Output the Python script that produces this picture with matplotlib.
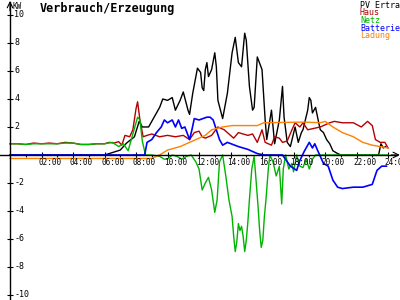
import numpy as np
import matplotlib.pyplot as plt

# hours / kW
pv_h = [0, 6.0, 6.3, 7.0, 7.4, 7.9, 8.2, 8.4, 8.8, 9.1, 9.5, 9.7, 10.0, 10.3, 10.5, 10.8, 11.0, 11.3, 11.4,
        11.6, 11.9, 12.1, 12.2, 12.3, 12.4, 12.5, 12.6, 12.8, 13.0, 13.1, 13.2, 13.5, 13.8, 14.1, 14.3, 14.5,
        14.7, 14.9, 15.0, 15.2, 15.4, 15.5, 15.7, 16.0, 16.2, 16.3, 16.6, 16.8, 17.1, 17.3, 17.4, 17.6, 17.8,
        18.1, 18.3, 18.5, 18.6, 18.9, 19.0, 19.1, 19.2, 19.4, 19.6, 19.7, 19.9, 20.1, 20.3, 20.5, 20.8, 21.0,
        23.4, 23.55, 23.7, 23.85]
pv_kw = [0, 0, 0.1, 0.35, 0.85, 1.3, 2.4, 2.0, 2.0, 2.6, 3.4, 4.0, 3.9, 4.1, 3.2, 3.9, 4.5, 3.2, 2.9,
         4.4, 6.2, 5.9, 4.8, 4.6, 6.1, 6.6, 5.6, 6.1, 7.3, 6.3, 3.9, 2.6, 4.4, 7.3, 8.4, 6.6,
         6.3, 8.7, 8.2, 4.9, 3.2, 3.4, 7.0, 6.1, 2.5, 1.1, 3.2, 0.8, 2.5, 4.9, 2.7, 0.9, 0.6,
         2.0, 0.9, 1.6, 1.8, 3.2, 4.1, 3.9, 3.0, 3.4, 2.3, 1.8, 1.6, 1.1, 0.8, 0.3, 0.1, 0,
         0, 0.8, 0.5, 0.6]

haus_h = [0, 0.5, 1.0, 1.5, 2.0, 2.5, 3.0, 3.5, 4.0, 4.5, 5.0, 5.5, 6.0, 6.3, 6.6, 6.9, 7.1, 7.3, 7.6,
          7.8, 8.0, 8.1, 8.25, 8.45, 8.7, 9.0, 9.5, 10.0, 10.5, 11.0, 11.4, 11.7, 12.0, 12.2, 12.4, 12.8,
          13.2, 13.6, 14.2, 14.5, 15.1, 15.4, 15.7, 16.0, 16.2, 16.6, 16.8, 17.1, 17.3, 17.6, 17.9, 18.1,
          18.4, 18.6, 18.9, 19.3, 19.7, 20.3, 20.6, 21.1, 21.8, 22.3, 22.7, 23.0, 23.2, 23.5, 23.8, 24.0]
haus_kw = [0.8, 0.8, 0.75, 0.85, 0.8, 0.85, 0.8, 0.9, 0.85, 0.75, 0.75, 0.8, 0.8, 0.9, 0.85, 0.95, 0.7, 1.4, 1.3,
           1.8, 3.3, 3.8, 2.5, 1.3, 1.4, 1.5, 1.3, 1.4, 1.3, 1.4, 1.1, 1.6, 1.7, 1.3, 1.2, 1.4,
           2.0, 1.8, 1.2, 1.6, 1.4, 1.5, 0.9, 1.8, 0.9, 0.7, 1.3, 1.2, 0.9, 1.0, 1.8, 2.3,
           2.0, 2.3, 1.8, 1.9, 2.0, 2.3, 2.4, 2.3, 2.3, 2.0, 2.4, 2.1, 1.1, 0.9, 0.9, 0.5]

netz_h = [0, 0.5, 1.0, 1.5, 2.0, 2.5, 3.0, 3.5, 4.0, 4.5, 5.0, 5.5, 6.0, 6.5, 6.9, 7.2, 7.5, 7.8, 8.1, 8.25,
          8.4, 8.6, 9.0, 9.5, 9.8, 10.0, 10.3, 10.6, 10.9, 11.2, 11.5, 11.8, 12.0, 12.2, 12.4, 12.6, 12.8,
          13.0, 13.15, 13.3, 13.5, 13.7, 13.9, 14.1, 14.2, 14.3, 14.4, 14.5, 14.6, 14.7, 14.8, 14.9, 15.0,
          15.1, 15.2, 15.35, 15.5, 15.6, 15.75, 15.85, 15.95, 16.05, 16.15, 16.25, 16.4, 16.5, 16.7, 16.9,
          17.1, 17.25, 17.35, 17.5, 17.7, 17.9, 18.0, 18.2, 18.4, 18.6, 18.8, 19.0, 19.2, 19.4, 24.0]
netz_kw = [0.8, 0.8, 0.75, 0.8, 0.8, 0.8, 0.8, 0.85, 0.85, 0.75, 0.75, 0.8, 0.8, 0.9, 0.6, 0.8, 0.3, 1.5, 2.7, 2.5,
           1.0, 0, 0, -0.1, -0.3, -0.3, 0, -0.1, -0.3, -0.1, 0, -0.5, -1.0, -2.5, -2.0, -1.6, -2.5,
           -4.1, -3.2, -0.5, 0, -1.5, -3.2, -4.4, -5.8, -6.9, -6.2, -4.9, -5.4, -5.1, -5.8, -6.9, -6.1,
           -4.8, -3.2, -1.0, -0.1, -1.5, -3.7, -5.4, -6.6, -6.1, -4.4, -3.2, -1.0, 0, -0.5, -1.5,
           -0.8, -3.5, -1.0, 0, -1.0, -0.6, -1.2, 0, -0.8, -0.9, -0.3, -1.0, -0.3, 0, 0]

batt_h = [0, 8.55, 8.7, 9.0, 9.3, 9.6, 9.8, 10.0, 10.3, 10.5, 10.7, 10.9, 11.1, 11.4, 11.55, 11.7, 12.0,
          12.5, 12.7, 12.9, 13.1, 13.3, 13.5, 13.8, 14.5, 15.1, 15.7, 16.1, 17.3, 17.8, 18.2, 18.4, 18.7,
          19.0, 19.2, 19.35, 19.5, 19.7, 19.9, 20.2, 20.5, 20.8, 21.1, 21.8, 22.4, 23.0, 23.3, 23.6, 23.9]
batt_kw = [0, 0, 0.9, 1.1, 1.6, 2.0, 2.5, 2.3, 2.5, 2.0, 2.5, 1.9, 2.0, 1.1, 1.8, 2.6, 2.5,
           2.7, 2.7, 2.5, 1.8, 1.1, 0.7, 0.9, 0.6, 0.4, 0.1, 0, 0, -0.8, -1.1, -0.4, 0.3,
           0.9, 0.5, 0.8, 0.4, -0.1, -0.6, -0.8, -1.8, -2.3, -2.4, -2.3, -2.3, -2.1, -1.1, -0.8, -0.8]

ladung_h = [0, 9.0, 9.5, 10.0, 10.8, 11.4, 12.0, 12.4, 12.8, 13.5, 14.1, 15.7, 16.1, 18.7, 19.7, 20.0,
            20.5, 21.1, 21.8, 22.4, 23.0, 23.5, 24.0]
ladung_kw = [-0.25, -0.25, 0.0, 0.35, 0.6, 0.9, 1.2, 1.4, 1.8, 2.0, 2.1, 2.1, 2.3, 2.35, 2.3, 2.4,
             2.0, 1.6, 1.3, 0.9, 0.7, 0.6, 0.5]

legend_labels = ['PV Ertrag', 'Haus', 'Netz', 'Batterie', 'Ladung']
colors = ['#000000', '#b40000', '#00b400', '#0000ff', '#ff8000']

y_ticks = [-10, -8, -6, -4, -2, 2, 4, 6, 8, 10]
x_ticks = [2, 4, 6, 8, 10, 12, 14, 16, 18, 20, 22, 24]
x_labels = ['02:00', '04:00', '06:00', '08:00', '10:00', '12:00', '14:00', '16:00',
            '18:00', '20:00', '22:00', '24:00']

mono = 'DejaVu Sans Mono'

fig = plt.figure(figsize=(4, 3), dpi=100)
ax = fig.add_axes([0, 0, 1, 1])
ax.set_xlim(-0.635, 24.76)
ax.set_ylim(-10.36, 11.07)

for s in ['top', 'right']:
    ax.spines[s].set_visible(False)
ax.spines['left'].set_position(('data', 0))
ax.spines['bottom'].set_position(('data', 0))
ax.spines['left'].set_linewidth(1.0)
ax.spines['bottom'].set_linewidth(1.0)
ax.spines['left'].set_bounds(-10.4, 10.9)
ax.spines['bottom'].set_bounds(-0.7, 24.55)

ax.set_yticks(y_ticks)
ax.set_xticks(x_ticks)
ax.set_xticks(np.arange(1, 24, 2), minor=True)
ax.tick_params(axis='both', which='major', direction='inout', length=4, width=0.8,
               labelleft=False, labelbottom=False)
ax.tick_params(axis='x', which='minor', direction='out', length=1.5, width=0.8)

for v in y_ticks:
    ax.text(0.27, v, str(v), fontsize=6, family=mono, va='center', ha='left')
for v, lab in zip(x_ticks, x_labels):
    ax.text(v - 0.2, -0.2, lab, fontsize=5.5, family=mono, va='top', ha='left')

# axis arrows
ax.annotate('', xy=(0, 11.0), xytext=(0, 10.3),
            arrowprops=dict(arrowstyle='->', lw=0.8, color='black', shrinkA=0, shrinkB=0))
ax.annotate('', xy=(24.75, 0), xytext=(24.2, 0),
            arrowprops=dict(arrowstyle='->', lw=0.8, color='black', shrinkA=0, shrinkB=0))
ax.text(0.18, 10.95, 'KW', fontsize=5.5, family=mono, va='top', ha='left')

ax.plot(pv_h, pv_kw, color=colors[0], lw=1.0)
ax.plot(haus_h, haus_kw, color=colors[1], lw=1.0)
ax.plot(netz_h, netz_kw, color=colors[2], lw=1.0)
ax.plot(batt_h, batt_kw, color=colors[3], lw=1.2)
ax.plot(ladung_h, ladung_kw, color=colors[4], lw=1.0)

ax.text(0.1, 0.973, 'Verbrauch/Erzeugung', transform=ax.transAxes, fontsize=8.5,
        family=mono, weight='bold', va='center', ha='left')

for i, (lab, c) in enumerate(zip(legend_labels, colors)):
    ax.text(0.9, 0.983 - i * 0.0255, lab, transform=ax.transAxes, fontsize=6,
            family=mono, color=c, va='center', ha='left')

fig.savefig('out.png', dpi=100)
